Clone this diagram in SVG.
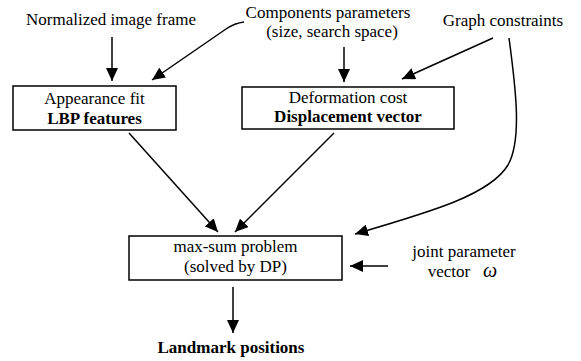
<svg xmlns="http://www.w3.org/2000/svg" width="581" height="361" viewBox="0 0 581 361">
  <style>
    .t { font-family: "Liberation Serif", "Times New Roman", Tinos, "DejaVu Serif", serif; font-size: 17px; fill: #000; text-anchor: middle; }
    .b { font-weight: bold; }
    .w { font-style: italic; font-size: 20px; }
    .box { fill: #fff; stroke: #000; stroke-width: 1.5; }
    .edge { fill: none; stroke: #000; stroke-width: 1.5; }
  </style>
  <defs>
    <marker id="arrow" markerUnits="userSpaceOnUse" markerWidth="14" markerHeight="12" refX="13" refY="6" orient="auto">
      <path d="M0,0 L13,6 L0,12 Z" fill="#000"/>
    </marker>
  </defs>
  <rect width="581" height="361" fill="#fff"/>

  <g id="connectors">
    <path class="edge" marker-end="url(#arrow)" d="M112,37 L112,81"/>
    <path class="edge" marker-end="url(#arrow)" d="M244,22 C236,23 232,25 226,29 L152,80"/>
    <path class="edge" marker-end="url(#arrow)" d="M344,47 L344,82"/>
    <path class="edge" marker-end="url(#arrow)" d="M493,38 L402,79"/>
    <path class="edge" marker-end="url(#arrow)" d="M509,38 C516,90 522,140 508,165 C490,195 430,212 355,234"/>
    <path class="edge" marker-end="url(#arrow)" d="M129,133 L218,232"/>
    <path class="edge" marker-end="url(#arrow)" d="M334,133 L235,232"/>
    <path class="edge" marker-end="url(#arrow)" d="M388,266 L350,266"/>
    <path class="edge" marker-end="url(#arrow)" d="M233,287 L233,333"/>
  </g>

  <g id="input-frame">
    <text class="t" x="111" y="25">Normalized image frame</text>
  </g>
  <g id="input-components">
    <text class="t" x="328" y="18">Components parameters</text>
    <text class="t" x="332" y="37">(size, search space)</text>
  </g>
  <g id="input-graph">
    <text class="t" x="503" y="26">Graph constraints</text>
  </g>
  <g id="appearance">
    <rect class="box" x="13" y="86" width="163" height="44"/>
    <text class="t" x="94.5" y="104">Appearance fit</text>
    <text class="t b" x="94.5" y="124">LBP features</text>
  </g>
  <g id="deformation">
    <rect class="box" x="242" y="87" width="212" height="42"/>
    <text class="t" x="348" y="103">Deformation cost</text>
    <text class="t b" x="348" y="122">Displacement vector</text>
  </g>
  <g id="maxsum">
    <rect class="box" x="129" y="236" width="213" height="44"/>
    <text class="t" x="235.5" y="252">max-sum problem</text>
    <text class="t" x="235.5" y="272">(solved by DP)</text>
  </g>
  <g id="joint-param">
    <text class="t" x="464" y="257">joint parameter</text>
    <text class="t" x="449" y="277">vector</text>
    <text class="t w" x="490" y="277">ω</text>
  </g>
  <g id="output">
    <text class="t b" x="231" y="353">Landmark positions</text>
  </g>
</svg>
